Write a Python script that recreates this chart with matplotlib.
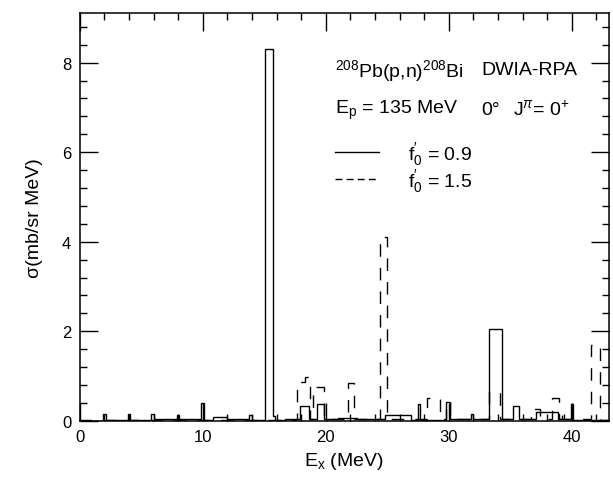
import matplotlib.pyplot as plt
from matplotlib.lines import Line2D

# step histograms, f0' = 0.9 (solid)
solid_edges = [0, 1.9, 2.1, 3.9, 4.1, 5.8, 6.0, 7.9, 8.1, 9.9, 10.1, 10.8, 12.0, 13.8, 14.0,
               15.05, 15.7, 15.9, 16.7, 17.9, 18.6, 18.8, 19.3, 19.85, 19.95, 21.0, 22.5,
               24.8, 25.85, 26.9, 27.5, 27.7, 29.8, 30.1, 31.8, 32.0, 33.3, 34.3, 35.2,
               35.7, 36.0, 37.1, 38.9, 39.9, 40.1, 43.0]
solid_vals = [0.0, 0.15, 0.02, 0.15, 0.02, 0.15, 0.04, 0.12, 0.05, 0.40,
              0.02, 0.08, 0.03, 0.12, 0.02, 8.30, 0.10, 0.02, 0.05, 0.33,
              0.05, 0.05, 0.38, 0.05, 0.03, 0.06, 0.04, 0.13, 0.12, 0.02,
              0.38, 0.02, 0.43, 0.03, 0.15, 0.03, 2.05, 0.03, 0.34, 0.05,
              0.04, 0.20, 0.03, 0.38, 0.02]

# f0' = 1.5 (dashed)
dashed_edges = [0, 17.7, 18.3, 18.7, 19.0, 19.85, 21.8, 22.3, 24.4, 25.0, 28.2, 29.3,
                29.8, 30.1, 33.3, 34.2, 36.7, 37.4, 38.4, 39.0, 39.2, 39.4, 41.6, 42.3, 43.0]
dashed_vals = [0.02, 0.87, 0.98, 0.05, 0.75, 0.04, 0.85, 0.04, 4.1, 0.05, 0.52, 0.03,
               0.43, 0.03, 0.65, 0.04, 0.27, 0.05, 0.50, 0.03, 0.25, 0.03, 1.7, 0.02]

plt.rcParams["font.family"] = ["Liberation Sans", "DejaVu Sans"]
plt.rcParams["mathtext.fontset"] = "custom"
plt.rcParams["mathtext.rm"] = "Liberation Sans"
plt.rcParams["mathtext.it"] = "Liberation Sans:italic"
plt.rcParams["mathtext.bf"] = "Liberation Sans:bold"

fig = plt.figure(figsize=(6.13, 4.81), dpi=100)
ax = fig.add_axes([0.13, 0.123, 0.863, 0.847])

ax.stairs(solid_vals, solid_edges, color="black", lw=1.0)
ax.stairs(dashed_vals, dashed_edges, color="black", lw=1.0, linestyle=(0, (9, 8)))

ax.set_xlim(0, 43)
ax.set_ylim(0, 9.1)
ax.set_xticks([0, 10, 20, 30, 40])
ax.set_xticks(range(0, 43, 2), minor=True)
ax.set_yticks([0, 2, 4, 6, 8])
ax.set_yticks([i * 0.4 for i in range(23)], minor=True)
ax.tick_params(which="both", direction="in", top=True, right=True, labelsize=12, width=1)
ax.tick_params(which="major", length=13, pad=6)
ax.tick_params(which="minor", length=5)
for s in ax.spines.values():
    s.set_linewidth(1.1)

ax.set_xlabel("E$_{\\mathrm{x}}$ (MeV)", fontsize=14)
ax.set_ylabel("σ(mb/sr MeV)", fontsize=14, labelpad=14)

ax.text(0.482, 0.862, "$^{208}$Pb(p,n)$^{208}$Bi", transform=ax.transAxes, fontsize=14, va="center")
ax.text(0.760, 0.862, "DWIA-RPA", transform=ax.transAxes, fontsize=14, va="center")
ax.text(0.482, 0.765, "E$_{\\mathrm{p}}$ = 135 MeV", transform=ax.transAxes, fontsize=14, va="center")
ax.text(0.760, 0.765, "0°", transform=ax.transAxes, fontsize=14, va="center")
ax.text(0.819, 0.765, "J$^{\\pi}$= 0$^{+}$", transform=ax.transAxes, fontsize=14, va="center")

handles = [Line2D([], [], color="black", lw=1.0),
           Line2D([], [], color="black", lw=1.0, linestyle=(0, (5, 3)))]
labels = ["f$_0^{\\prime}$ = 0.9", "f$_0^{\\prime}$ = 1.5"]
ax.legend(handles, labels, loc="upper left", bbox_to_anchor=(0.482, 0.69), frameon=False,
          fontsize=14, handlelength=2.3, handletextpad=1.45, labelspacing=0.0,
          borderpad=0, borderaxespad=0)

fig.savefig("out.png", dpi=100)
